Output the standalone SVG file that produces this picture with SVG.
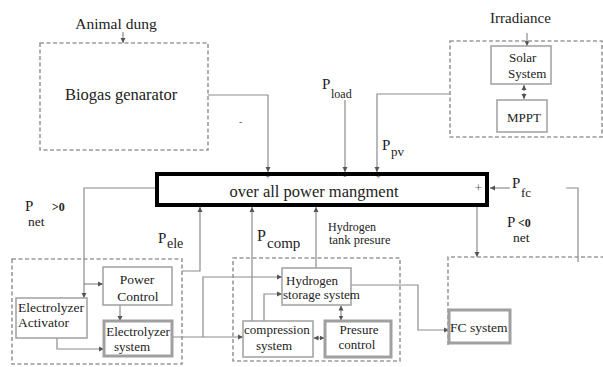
<svg xmlns="http://www.w3.org/2000/svg" width="603" height="367" viewBox="0 0 603 367">
<defs>
<marker id="ah" markerWidth="6" markerHeight="6" refX="5" refY="3" orient="auto-start-reverse" markerUnits="userSpaceOnUse"><path d="M0,0.5 L5,3 L0,5.5 z" fill="#555"/></marker>
</defs>
<style>
.t{font-family:"Liberation Serif","Times New Roman",serif;fill:#222}
.c{fill:none;stroke:#8c8c8c;stroke-width:1.2}
.a{marker-end:url(#ah)}
.b{marker-start:url(#ah);marker-end:url(#ah)}
.dash{fill:none;stroke:#9a9a9a;stroke-width:1.6;stroke-dasharray:4 2.5}
.box{fill:#fff;stroke:#a0a0a0;stroke-width:1.5}
.box2{fill:#fff;stroke:#a0a0a0;stroke-width:3}
.s{fill:#555;font-family:"Liberation Serif",serif}
</style>
<rect width="603" height="367" fill="#fff"/>

<g id="connectors">
<path class="c a" d="M123,32 V43"/>
<path class="c a" d="M208,95 H268 V172"/>
<path class="c a" d="M345,100 V172"/>
<path class="c a" d="M450,94 H377 V172"/>
<path class="c a" d="M527,33 V46"/>
<path class="c b" d="M524,85 V99" stroke-dasharray="2 2"/>
<path class="c a" d="M510,188 H490"/>
<path class="c" d="M566,188 H578 V262"/>
<path class="c a" d="M477,207 V257"/>
<path class="c a" d="M155,188 H84 V298"/>
<path class="c a" d="M84,284 H103"/>
<path class="c a" d="M57,338 V349 H104"/>
<path class="c a" d="M120,305 V321"/>
<path class="c a" d="M182,271 H200 V207"/>
<path class="c a" d="M172,337 H243"/>
<path class="c a" d="M203,337 V277 H282"/>
<path class="c a" d="M252,321 V207"/>
<path class="c a" d="M316,268 V207"/>
<path class="c a" d="M264,321 V294 H282"/>
<path class="c b" d="M313.5,338 H324.5"/>
<path class="c b" d="M341,305.5 V320.5"/>
<path class="c a" d="M351,285 H418 V330 H449"/>
</g>

<g id="animal-dung"><text class="t" x="116" y="29" font-size="15.5" text-anchor="middle">Animal dung</text></g>

<g id="biogas-generator">
<rect class="dash" x="40" y="43" width="168" height="107"/>
<text class="t" x="65" y="100" font-size="16.5">Biogas genarator</text>
</g>
<text class="s" x="239" y="125" font-size="10">-</text>

<g id="irradiance"><text class="t" x="490" y="23" font-size="15">Irradiance</text></g>

<g id="solar-region">
<rect class="dash" x="450" y="41" width="152" height="96"/>
</g>
<g id="solar-system">
<rect class="box" x="491" y="46" width="60" height="38"/>
<text class="t" x="509" y="62" font-size="13">Solar</text>
<text class="t" x="508" y="78" font-size="13">System</text>
</g>
<g id="mppt">
<rect class="box" x="497" y="100" width="50" height="32"/>
<text class="t" x="524" y="122" font-size="13" text-anchor="middle">MPPT</text>
</g>

<g id="power-management">
<rect x="157" y="174" width="330" height="31" fill="#fff" stroke="#000" stroke-width="4"/>
<text class="t" x="314" y="197" font-size="16.5" text-anchor="middle">over all power mangment</text>
<text class="s" x="265.5" y="179" font-size="8">+</text>
<text class="s" x="343.5" y="179" font-size="8">-</text>
<text class="s" x="376" y="179" font-size="8">+</text>
<text class="s" x="475" y="192" font-size="12">+</text>
</g>

<g id="labels">
<text class="t" x="322" y="89" font-size="15">P<tspan x="331" y="98" font-size="12">load</tspan></text>
<text class="t" x="382" y="150" font-size="15">P<tspan x="391" y="156" font-size="13">pv</tspan></text>
<text class="t" x="512" y="188" font-size="15">P<tspan x="521" y="197" font-size="13">fc</tspan></text>
<text class="t" x="507" y="227" font-size="15">P<tspan x="518" y="227" font-size="12" font-weight="bold">&lt;0</tspan></text>
<text class="t" x="513" y="242" font-size="13.5">net</text>
<text class="t" x="25" y="211" font-size="15">P<tspan x="52" y="211" font-size="12" font-weight="bold">&gt;0</tspan></text>
<text class="t" x="28" y="226" font-size="13.5">net</text>
<text class="t" x="158" y="243" font-size="15">P<tspan x="167" y="248" font-size="14">ele</tspan></text>
<text class="t" x="257" y="241" font-size="16">P<tspan x="267" y="248" font-size="15">comp</tspan></text>
<text class="t" x="328" y="231" font-size="12">Hydrogen</text>
<text class="t" x="329" y="244" font-size="12.5">tank presure</text>
</g>

<g id="electrolyzer-region"><rect class="dash" x="12" y="259" width="170" height="105"/></g>
<g id="power-control">
<rect class="box" x="103" y="267" width="69" height="38"/>
<text class="t" x="137" y="284" font-size="13.5" text-anchor="middle">Power</text>
<text class="t" x="138" y="301" font-size="13.5" text-anchor="middle">Control</text>
</g>
<g id="electrolyzer-activator">
<rect class="box" x="16" y="298" width="71" height="40"/>
<text class="t" x="18" y="312" font-size="13.5">Electrolyzer</text>
<text class="t" x="18" y="327" font-size="13.5">Activator</text>
</g>
<g id="electrolyzer-system">
<rect class="box2" x="104" y="321" width="68" height="35"/>
<text class="t" x="138" y="336" font-size="13" text-anchor="middle">Electrolyzer</text>
<text class="t" x="132" y="351" font-size="13" text-anchor="middle">system</text>
</g>

<g id="storage-region"><rect class="dash" x="233" y="258" width="167" height="103"/></g>
<g id="hydrogen-storage">
<rect class="box" x="282" y="268" width="69" height="37"/>
<text class="t" x="286" y="285" font-size="13">Hydrogen</text>
<text class="t" x="283" y="299" font-size="13">storage system</text>
</g>
<g id="compression-system">
<rect class="box" x="243" y="321" width="70" height="36"/>
<text class="t" x="244" y="334" font-size="13">compression</text>
<text class="t" x="274" y="350" font-size="13" text-anchor="middle">system</text>
</g>
<g id="presure-control">
<rect class="box2" x="325" y="321" width="66" height="36"/>
<text class="t" x="359" y="334" font-size="13" text-anchor="middle">Presure</text>
<text class="t" x="357" y="349" font-size="13" text-anchor="middle">control</text>
</g>

<g id="fc-region"><path class="dash" d="M448,345 V257 H603"/></g>
<g id="fc-system">
<rect class="box2" x="449" y="310" width="61" height="33"/>
<text class="t" x="450" y="332" font-size="13.5">FC system</text>
</g>
</svg>
